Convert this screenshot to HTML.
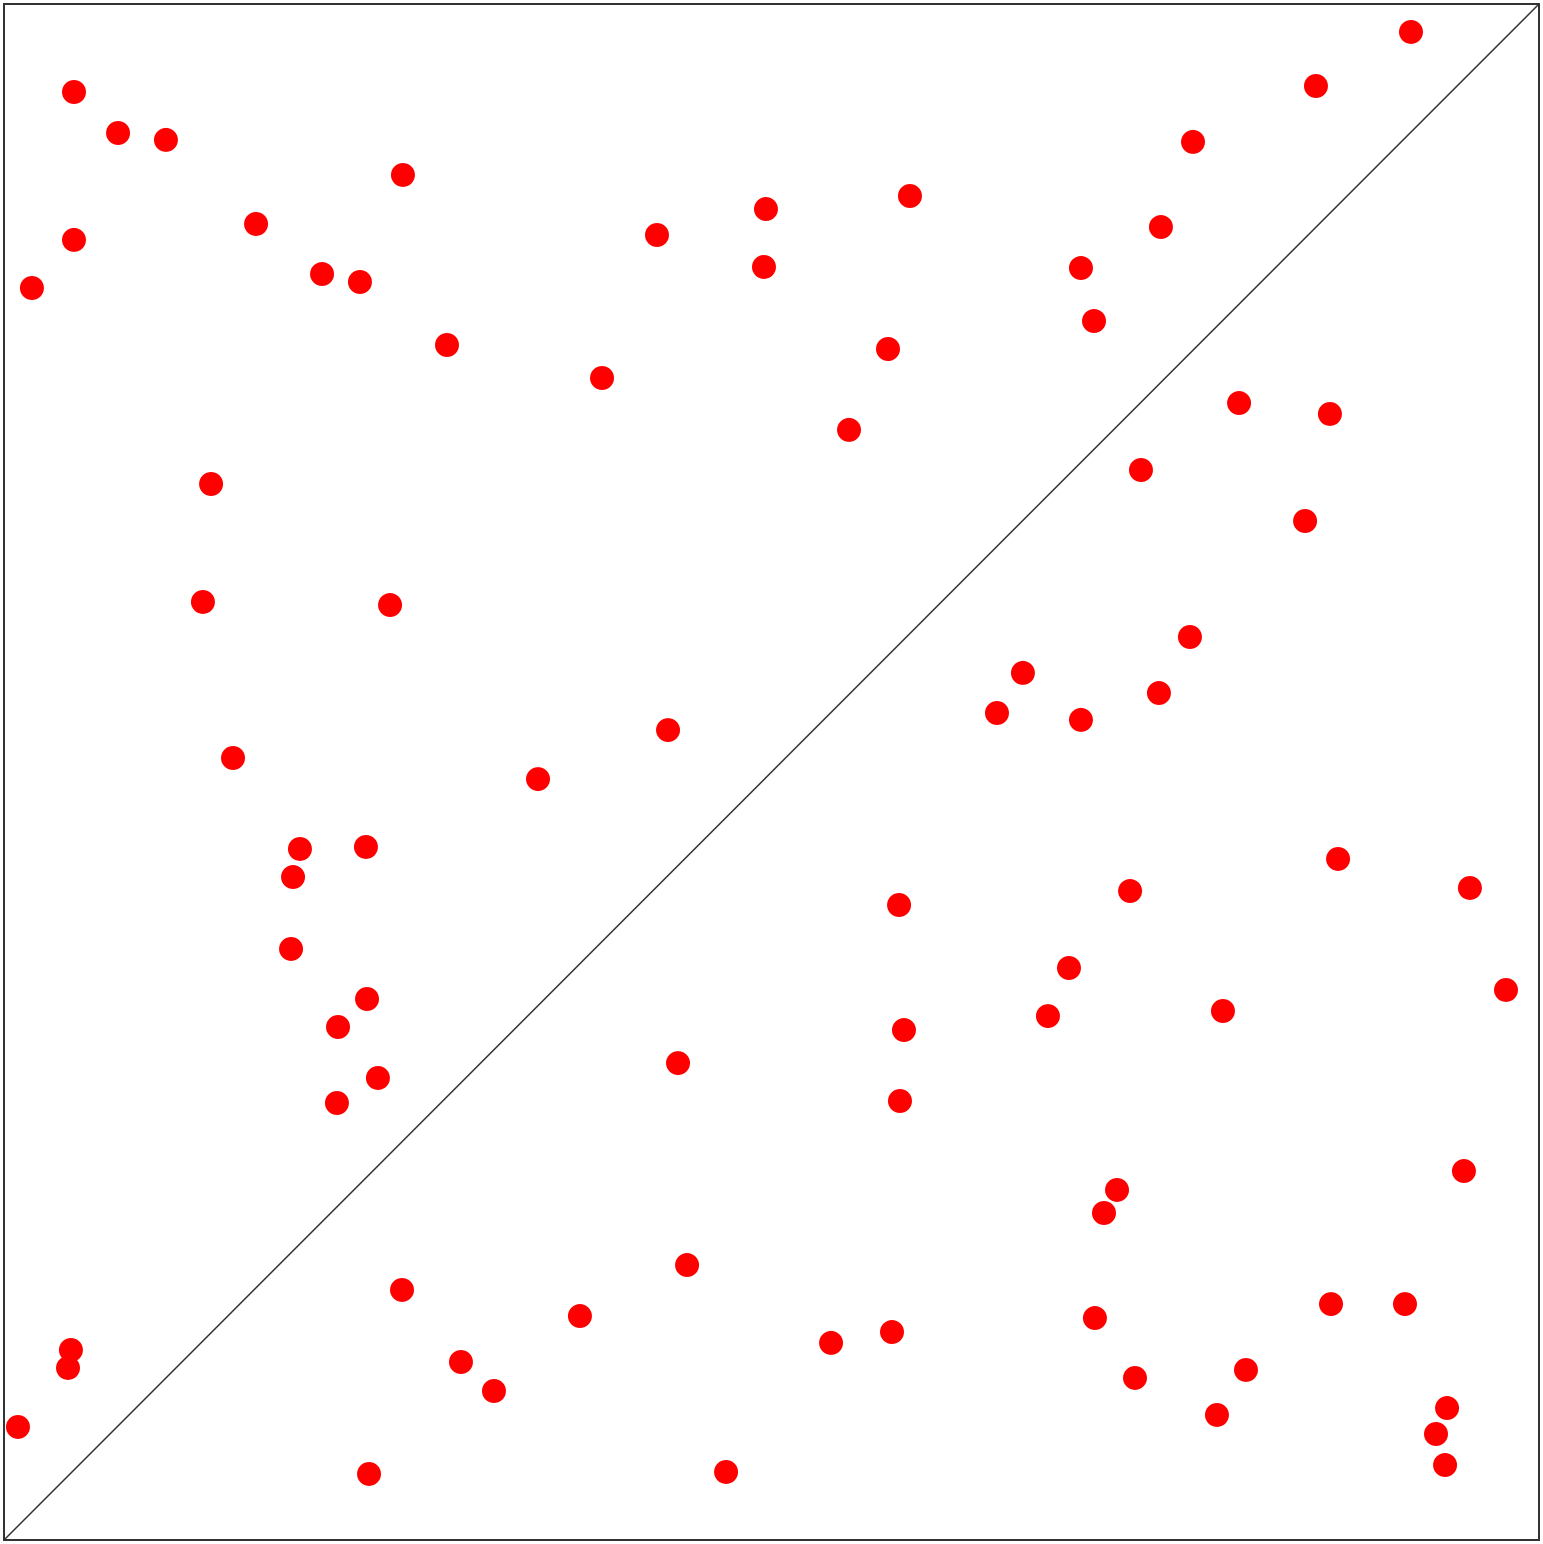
<!DOCTYPE html>
<html><head><meta charset="utf-8"><style>
html,body{margin:0;padding:0;background:#fff;}
svg{display:block;}
</style></head><body>
<svg id="chart" width="1543" height="1544" viewBox="0 0 1543 1544" xmlns="http://www.w3.org/2000/svg">
<rect x="4" y="4" width="1535" height="1536" fill="#fff" stroke="#333" stroke-width="2"/>
<g id="pts"></g>
</svg>
<script>
const xValues=[.0456,.0743,.1055,.2599,.1642,.0456,.0182,.2072,.2319,.2886,.3896,.4254,.4964,.4951,.5902,.5759,.5505,.7016,.7101,.7537,.7746,.8547,.9166,.8046,.8638,.7407,.8476,.1349,.1296,.2515,.1492,.3479,.4326,.7726,.6638,.6469,.7016,.7524,.1928,.2358,.1883,.1870,.2365,.2176,.2436,.2169,.5831,.7336,.8691,.9550,.9785,.6938,.6801,.7941,.5863,.4391,.5837,.7251,.7166,.9511,.4450,.2593,.3752,.0436,.0417,.0091,.2977,.3192,.2378,.4704,.5388,.5785,.7107,.7368,.7902,.8091,.8645,.9127,.9401,.9329,.9388];
const yValues=[.9427,.9160,.9115,.8887,.8568,.8464,.8151,.8242,.8190,.7780,.7565,.8496,.8665,.8288,.8750,.7754,.7227,.8281,.7936,.8548,.9102,.9466,.9818,.7402,.7331,.6966,.6634,.6875,.6107,.6087,.5091,.4954,.5273,.5879,.5645,.5384,.5339,.5514,.4499,.4512,.4316,.3848,.3522,.3340,.3008,.2845,.4134,.4225,.4434,.4245,.3581,.3724,.3411,.3444,.3320,.3105,.2858,.2279,.2129,.2402,.1790,.1628,.1458,.1237,.1120,.0736,.1159,.0970,.0430,.0443,.1283,.1354,.1445,.1055,.0814,.1107,.1536,.1536,.0859,.0690,.0488];
const diagonal=[0,1];
const NS='http://www.w3.org/2000/svg';
const sx=v=>4+v*1535;
const sy=v=>1540-v*1536;
const svg=document.getElementById('chart');
const ln=document.createElementNS(NS,'line');
ln.setAttribute('x1',sx(diagonal[0]));ln.setAttribute('y1',sy(diagonal[0]));
ln.setAttribute('x2',sx(diagonal[1]));ln.setAttribute('y2',sy(diagonal[1]));
ln.setAttribute('stroke','#333');ln.setAttribute('stroke-width','1.5');


svg.insertBefore(ln,document.getElementById('pts'));
const g=document.getElementById('pts');
for(let i=0;i<xValues.length;i++){
  const c=document.createElementNS(NS,'circle');
  c.setAttribute('cx',sx(xValues[i]));c.setAttribute('cy',sy(yValues[i]));
  c.setAttribute('r','12');c.setAttribute('fill','#ff0000');
  
  
  g.appendChild(c);
}
</script>
</body></html>
